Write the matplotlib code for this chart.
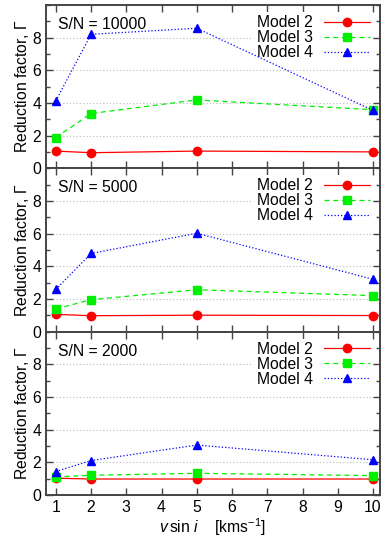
import matplotlib
matplotlib.use('Agg')
import matplotlib.pyplot as plt
from matplotlib.ticker import MultipleLocator

plt.rcParams['font.family'] = ['Liberation Sans', 'DejaVu Sans']
plt.rcParams['mathtext.fontset'] = 'custom'
plt.rcParams['mathtext.rm'] = 'Liberation Sans'
plt.rcParams['mathtext.it'] = 'Liberation Sans:italic'
plt.rcParams['font.size'] = 11.3

# v sin i values (km/s)
vsini = [1, 2, 5, 10]
snr_labels = ['S/N = 10000', 'S/N = 5000', 'S/N = 2000']
model_names = ['Model 2', 'Model 3', 'Model 4']

# reduction factor per panel, per model
model2 = [[1.05, 0.95, 1.05, 1.0],
          [1.05, 0.97, 1.0, 0.98],
          [1.02, 0.97, 0.97, 0.97]]
model3 = [[1.88, 3.35, 4.18, 3.58],
          [1.38, 1.95, 2.56, 2.2],
          [1.1, 1.2, 1.32, 1.18]]
model4 = [[4.12, 8.2, 8.57, 3.54],
          [2.58, 4.78, 6.02, 3.2],
          [1.43, 2.1, 3.05, 2.15]]

styles = [dict(color='#ff0000', ls='-', marker='o'),
          dict(color='#00f000', ls='--', marker='s', dashes=(4, 3)),
          dict(color='#0000ff', ls=':', marker='^')]

fig, axes = plt.subplots(3, 1, figsize=(3.89, 5.45), dpi=100, sharex=True)
fig.subplots_adjust(left=0.118, right=0.977, top=0.991, bottom=0.092, hspace=0)

for k, ax in enumerate(axes):
    series = [model2[k], model3[k], model4[k]]
    for name, vals, st in zip(model_names, series, styles):
        ax.plot(vsini, vals, label=name, lw=0.9, markersize=6, zorder=3, **st)
    ax.set_xlim(0.72, 10.2)
    ax.set_ylim(0, 10)
    ax.set_yticks([0, 2, 4, 6, 8])
    ax.yaxis.set_minor_locator(MultipleLocator(1))
    ax.xaxis.set_major_locator(MultipleLocator(1))
    ax.tick_params(which='both', direction='in', top=True, right=True, color='#444444')
    ax.tick_params(which='major', length=5, width=1)
    ax.tick_params(which='minor', length=3, width=1)
    ax.grid(axis='y', which='major', ls=(0, (1, 2)), color='#bbbbbb', lw=0.8)
    for sp in ax.spines.values():
        sp.set_color('#444444')
        sp.set_linewidth(1.4)
    ax.set_ylabel(r'Reduction factor, $\mathit{\Gamma}$', labelpad=1)
    ax.text(0.035, 0.88, snr_labels[k], transform=ax.transAxes, va='center', ha='left')
    leg = ax.legend(loc='upper right', markerfirst=False, frameon=True, framealpha=1,
                    edgecolor='none', fancybox=False, handlelength=2.9, handletextpad=0.75,
                    labelspacing=0.0, borderpad=0.2, borderaxespad=0.45)
    leg.set_zorder(2)
    for t in leg.get_texts():
        t.set_ha('right')

axes[-1].set_xlabel(r'$v\,\sin\,i$    [kms$^{-1}$]', labelpad=1)

fig.savefig('out.png', dpi=100)
